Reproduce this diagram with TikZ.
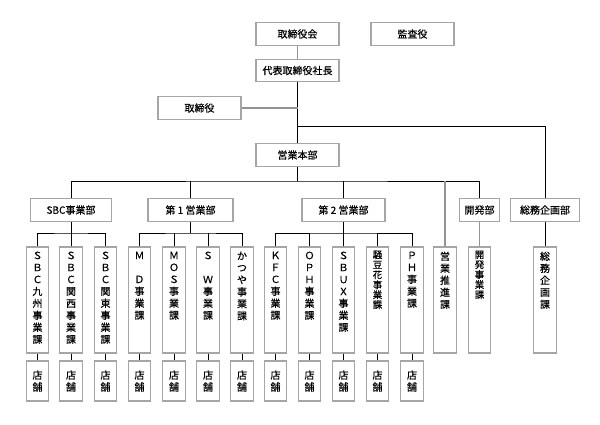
\documentclass[tikz,border=0pt]{standalone}
\usepackage{fontspec}
\newfontfamily\jp[FakeBold=0.5]{Noto Sans CJK JP}
\usetikzlibrary{positioning}
\tikzset{
    busho/.style={draw=gray!70, line width=1.1pt, minimum width=83pt, minimum height=22.5pt, inner sep=1pt, font=\jp\fontsize{10}{12}\selectfont},
    ka/.style={draw=gray!70, line width=1.1pt, minimum width=22.5pt, minimum height=106pt, inner sep=0pt},
    katext/.style={align=center, inner sep=0pt, font=\jp\fontsize{10}{12}\selectfont},
    katight/.style={align=center, inner sep=0pt, font=\jp\fontsize{9.5}{10}\selectfont},
    tenpo/.style={draw=gray!70, line width=1.1pt, minimum width=22.5pt, minimum height=40pt, inner sep=0pt, align=center, font=\jp\fontsize{10}{12}\selectfont},
    link/.style={draw=black, line width=0.8pt},
    glink/.style={draw=gray!85, line width=1.4pt}
}
\begin{document}
\begin{tikzpicture}[x=1pt, y=1pt]
    \useasboundingbox (0,0) rectangle (600,-424);
    % top management
    \node[busho] (torikai) at (297.5,-34) {取締役会};
    \node[busho] (kansa) at (412.5,-34) {監査役};
    \node[busho] (shacho) at (297.5,-70.5) {代表取締役社長};
    \node[busho] (torishimari) at (199.5,-108) {取締役};
    \node[busho] (honbu) at (297.5,-155) {営業本部};
    % departments
    \node[busho, minimum width=81pt] (sbc) at (71,-210) {SBC事業部};
    \node[busho, minimum width=85pt] (dai1) at (190.5,-210) {第 1 営業部};
    \node[busho] (dai2) at (343.5,-210) {第 2 営業部};
    \node[busho, minimum width=40pt] (kaihatsu) at (479.5,-210) {開発部};
    \node[busho, minimum width=69pt] (somu) at (545,-210) {総務企画部};
    % sections
    \node[ka] (k1) at (37.5,-300) {};
    \node[ka] (k2) at (71,-300) {};
    \node[ka] (k3) at (105.5,-300) {};
    \node[ka] (k4) at (139.5,-300) {};
    \node[ka] (k5) at (174,-300) {};
    \node[ka] (k6) at (208,-300) {};
    \node[ka] (k7) at (242,-300) {};
    \node[ka] (k8) at (275.5,-300) {};
    \node[ka] (k9) at (309.5,-300) {};
    \node[ka] (k10) at (343.5,-300) {};
    \node[ka] (k11) at (377.5,-300) {};
    \node[ka] (k12) at (412,-300) {};
    \node[ka] (k13) at (445,-300) {};
    \node[ka] (k14) at (479.5,-300) {};
    \node[ka] (k15) at (545,-300) {};
    \node[katext, below=5pt of k1.north] (k1t) {Ｓ\\Ｂ\\Ｃ\\九\\州\\事\\業\\課};
    \node[katext, below=5pt of k2.north] (k2t) {Ｓ\\Ｂ\\Ｃ\\関\\西\\事\\業\\課};
    \node[katext, below=5pt of k3.north] (k3t) {Ｓ\\Ｂ\\Ｃ\\関\\東\\事\\業\\課};
    \node[katext, below=5pt of k4.north] (k4t) {Ｍ\\\phantom{Ｍ}\\Ｄ\\事\\業\\課};
    \node[katext, below=5pt of k5.north] (k5t) {Ｍ\\Ｏ\\Ｓ\\事\\業\\課};
    \node[katext, below=5pt of k6.north] (k6t) {Ｓ\\\phantom{Ｓ}\\Ｗ\\事\\業\\課};
    \node[katext, below=5pt of k7.north] (k7t) {か\\つ\\や\\事\\業\\課};
    \node[katext, below=5pt of k8.north] (k8t) {Ｋ\\Ｆ\\Ｃ\\事\\業\\課};
    \node[katext, below=5pt of k9.north] (k9t) {Ｏ\\Ｐ\\Ｈ\\事\\業\\課};
    \node[katext, below=5pt of k10.north] (k10t) {Ｓ\\Ｂ\\Ｕ\\Ｘ\\事\\業\\課};
    \node[katight, below=4pt of k11.north] (k11t) {騒\\豆\\花\\事\\業\\課};
    \node[katext, below=5pt of k12.north] (k12t) {Ｐ\\Ｈ\\事\\業\\課};
    \node[katext, below=5pt of k13.north] (k13t) {営\\業\\推\\進\\課};
    \node[katight, below=4pt of k14.north] (k14t) {開\\発\\事\\業\\課};
    \node[katext, below=5pt of k15.north] (k15t) {総\\務\\企\\画\\課};
    % shops
    \node[tenpo] (t1) at (37.5,-381) {店\\舗};
    \node[tenpo] (t2) at (71,-381) {店\\舗};
    \node[tenpo] (t3) at (105.5,-381) {店\\舗};
    \node[tenpo] (t4) at (139.5,-381) {店\\舗};
    \node[tenpo] (t5) at (174,-381) {店\\舗};
    \node[tenpo] (t6) at (208,-381) {店\\舗};
    \node[tenpo] (t7) at (242,-381) {店\\舗};
    \node[tenpo] (t8) at (275.5,-381) {店\\舗};
    \node[tenpo] (t9) at (309.5,-381) {店\\舗};
    \node[tenpo] (t10) at (343.5,-381) {店\\舗};
    \node[tenpo] (t11) at (377.5,-381) {店\\舗};
    \node[tenpo] (t12) at (412,-381) {店\\舗};
    % bus points
    \coordinate (bus0) at (297.5,-126);
    \coordinate (bus1) at (297.5,-181);
    \coordinate (sub1) at (71,-233);
    \coordinate (sub2) at (190.5,-233);
    \coordinate (sub3) at (343.5,-233);
    % connectors
    \draw[glink] (torikai) -- (shacho);
    \draw[link] (shacho) -- (honbu);
    \draw[glink] (torishimari) -- (torishimari -| shacho);
    \draw[link] (bus0) -| (somu);
    \draw[link] (honbu) -- (bus1);
    \draw[link] (sbc) |- (bus1) -| (kaihatsu);
    \draw[link] (dai1) -- (dai1 |- bus1);
    \draw[link] (dai2) -- (dai2 |- bus1);
    \draw[glink] (k13) -- (k13 |- bus1);
    \draw[glink] (kaihatsu) -- (k14);
    \draw[link] (somu) -- (k15);
    \draw[link] (sbc) -- (sub1);
    \draw[link] (k1) |- (sub1) -| (k3);
    \draw[link] (k2) -- (sub1);
    \draw[link] (dai1) -- (sub2);
    \draw[link] (k4) |- (sub2) -| (k7);
    \draw[link] (k5) -- (k5 |- sub2);
    \draw[link] (k6) -- (k6 |- sub2);
    \draw[link] (dai2) -- (sub3);
    \draw[link] (k8) |- (sub3) -| (k12);
    \draw[link] (k9) -- (k9 |- sub3);
    \draw[link] (k10) -- (sub3);
    \draw[link] (k11) -- (k11 |- sub3);
    \foreach \i in {1,...,12}
        \draw[link] (k\i) -- (t\i);
\end{tikzpicture}
\end{document}
